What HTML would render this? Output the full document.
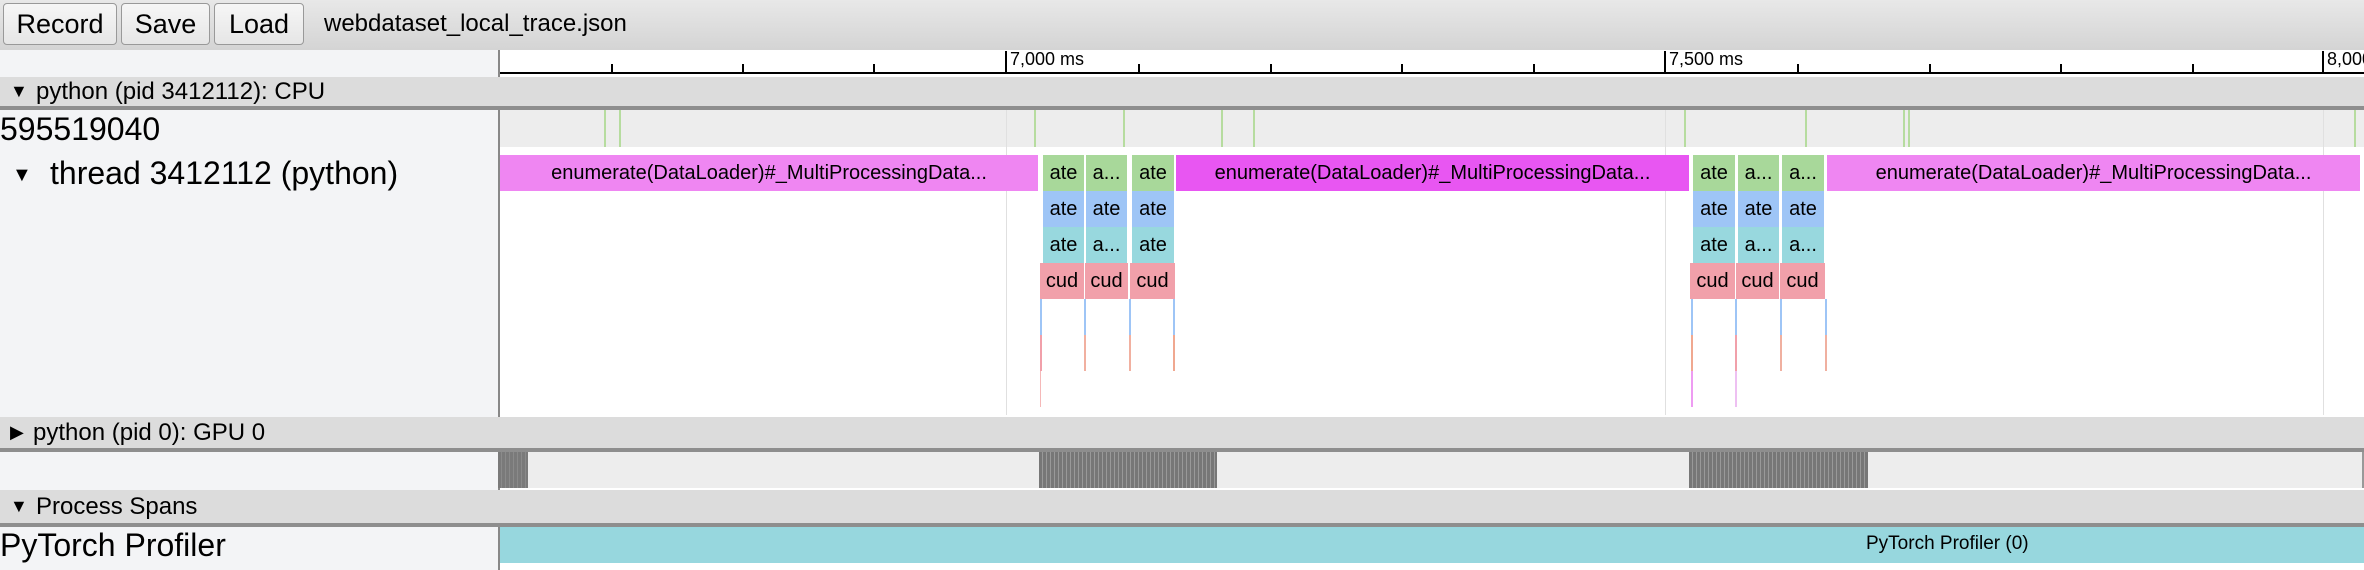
<!DOCTYPE html>
<html><head><meta charset="utf-8"><style>
*{margin:0;padding:0;box-sizing:border-box}
body{width:2364px;height:570px;overflow:hidden;background:#fff;font-family:"Liberation Sans",Arial,sans-serif;position:relative}
div{position:absolute}
.btn{top:3px;height:42px;border:1px solid #999;border-radius:4px;background:linear-gradient(#f6f6f6,#e6e6e6);font-size:27px;line-height:40px;text-align:center;color:#000}
.hdr{left:0;width:2364px;background:#dcdcdc;border-bottom:4px solid #8e8e8e;font-size:24px;color:#000}
.hdr span{position:absolute;left:36px}
.hdr i{position:absolute;left:10px;font-style:normal;font-size:18px}
.tick{width:2px;height:9px;background:#000;top:64px}
.b{height:36px;font-size:20px;line-height:36px;text-align:center;color:#000;overflow:hidden;white-space:nowrap}
.g{background:#a8d89a}.bl{background:#9ec5f6}.t{background:#98d8de}.r{background:#f1a0aa}
.vl{width:2px}
.cl{top:110px;height:37px;width:2px;background:#b6dc9f}
</style></head><body>
<!-- toolbar -->
<div style="left:0;top:0;width:2364px;height:50px;background:linear-gradient(#e8e8e8,#d4d4d4)"></div>
<div class="btn" style="left:3px;width:114px">Record</div>
<div class="btn" style="left:121px;width:89px">Save</div>
<div class="btn" style="left:214px;width:90px">Load</div>
<div style="left:324px;top:10px;font-size:24px;color:#000">webdataset_local_trace.json</div>
<!-- left panel -->
<div style="left:0;top:50px;width:499px;height:520px;background:#f3f4f6"></div>
<div style="left:498px;top:50px;width:2px;height:520px;background:#888"></div>
<!-- ruler -->
<div style="left:500px;top:50px;width:1864px;height:25px;background:#fff"></div>
<div style="left:500px;top:72px;width:1864px;height:2px;background:#000"></div>
<div class="tick" style="left:611px"></div><div class="tick" style="left:742px"></div><div class="tick" style="left:873px"></div>
<div class="tick" style="left:1138px"></div><div class="tick" style="left:1270px"></div><div class="tick" style="left:1401px"></div><div class="tick" style="left:1533px"></div>
<div class="tick" style="left:1797px"></div><div class="tick" style="left:1929px"></div><div class="tick" style="left:2060px"></div><div class="tick" style="left:2192px"></div>
<div style="left:1005px;top:51px;width:2px;height:23px;background:#000"></div>
<div style="left:1664px;top:51px;width:2px;height:23px;background:#000"></div>
<div style="left:2322px;top:51px;width:2px;height:23px;background:#000"></div>
<div style="left:1010px;top:49px;font-size:18px">7,000 ms</div>
<div style="left:1669px;top:49px;font-size:18px">7,500 ms</div>
<div style="left:2327px;top:49px;font-size:18px">8,000</div>
<!-- CPU header -->
<div class="hdr" style="top:77px;height:33px;line-height:29px"><i>▼</i><span>python (pid 3412112): CPU</span></div>
<!-- counter row -->
<div style="left:500px;top:110px;width:1864px;height:37px;background:#ededed"></div>
<div style="left:0;top:111px;font-size:32px;line-height:36px">595519040</div>
<div class="cl" style="left:604px"></div><div class="cl" style="left:619px"></div>
<div class="cl" style="left:1034px"></div><div class="cl" style="left:1123px"></div>
<div class="cl" style="left:1221px"></div><div class="cl" style="left:1253px"></div>
<div class="cl" style="left:1684px"></div><div class="cl" style="left:1805px"></div>
<div class="cl" style="left:1903px"></div><div class="cl" style="left:1908px"></div><div class="cl" style="left:2354px"></div>
<!-- grid lines -->
<div style="left:1006px;top:110px;width:1px;height:305px;background:#e0e0e0"></div>
<div style="left:1665px;top:110px;width:1px;height:305px;background:#e0e0e0"></div>
<div style="left:2323px;top:110px;width:1px;height:305px;background:#e0e0e0"></div>
<!-- thread -->
<div style="left:12px;top:157px;font-size:20px;line-height:36px">▼</div>
<div style="left:50px;top:155px;font-size:32px;line-height:36px">thread 3412112 (python)</div>
<div class="b" style="left:500px;top:155px;width:538px;background:#ef86f2">enumerate(DataLoader)#_MultiProcessingData...</div>
<div class="b" style="left:1176px;top:155px;width:513px;background:#e856f2">enumerate(DataLoader)#_MultiProcessingData...</div>
<div class="b" style="left:1827px;top:155px;width:533px;background:#ef86f2">enumerate(DataLoader)#_MultiProcessingData...</div>
<!-- block group 1 -->
<div class="b g" style="left:1043px;top:155px;width:41px">ate</div>
<div class="b g" style="left:1086px;top:155px;width:41px">a...</div>
<div class="b g" style="left:1132px;top:155px;width:42px">ate</div>
<div class="b bl" style="left:1043px;top:191px;width:41px">ate</div>
<div class="b bl" style="left:1086px;top:191px;width:41px">ate</div>
<div class="b bl" style="left:1132px;top:191px;width:42px">ate</div>
<div class="b t" style="left:1043px;top:227px;width:41px">ate</div>
<div class="b t" style="left:1086px;top:227px;width:41px">a...</div>
<div class="b t" style="left:1132px;top:227px;width:42px">ate</div>
<div class="b r" style="left:1040px;top:263px;width:44px">cud</div>
<div class="b r" style="left:1085px;top:263px;width:43px">cud</div>
<div class="b r" style="left:1130px;top:263px;width:45px">cud</div>
<!-- block group 2 -->
<div class="b g" style="left:1693px;top:155px;width:42px">ate</div>
<div class="b g" style="left:1738px;top:155px;width:41px">a...</div>
<div class="b g" style="left:1782px;top:155px;width:42px">a...</div>
<div class="b bl" style="left:1693px;top:191px;width:42px">ate</div>
<div class="b bl" style="left:1738px;top:191px;width:41px">ate</div>
<div class="b bl" style="left:1782px;top:191px;width:42px">ate</div>
<div class="b t" style="left:1693px;top:227px;width:42px">ate</div>
<div class="b t" style="left:1738px;top:227px;width:41px">a...</div>
<div class="b t" style="left:1782px;top:227px;width:42px">a...</div>
<div class="b r" style="left:1690px;top:263px;width:45px">cud</div>
<div class="b r" style="left:1736px;top:263px;width:43px">cud</div>
<div class="b r" style="left:1780px;top:263px;width:45px">cud</div>
<!-- thin lines -->
<div class="vl" style="left:1040px;top:299px;height:36px;background:#9ec5f6"></div>
<div class="vl" style="left:1084px;top:299px;height:36px;background:#9ec5f6"></div>
<div class="vl" style="left:1129px;top:299px;height:36px;background:#9ec5f6"></div>
<div class="vl" style="left:1173px;top:299px;height:36px;background:#9ec5f6"></div>
<div class="vl" style="left:1040px;top:335px;height:36px;background:#f1a0aa"></div>
<div class="vl" style="left:1084px;top:335px;height:36px;background:#f1b0a0"></div>
<div class="vl" style="left:1129px;top:335px;height:36px;background:#f1b0a0"></div>
<div class="vl" style="left:1173px;top:335px;height:36px;background:#f0a890"></div>
<div class="vl" style="left:1040px;top:371px;height:36px;background:#f5b8b8;width:1px"></div>
<div class="vl" style="left:1691px;top:299px;height:36px;background:#9ec5f6"></div>
<div class="vl" style="left:1735px;top:299px;height:36px;background:#9ec5f6"></div>
<div class="vl" style="left:1780px;top:299px;height:36px;background:#9ec5f6"></div>
<div class="vl" style="left:1825px;top:299px;height:36px;background:#9ec5f6"></div>
<div class="vl" style="left:1691px;top:335px;height:36px;background:#f0a890"></div>
<div class="vl" style="left:1735px;top:335px;height:36px;background:#f1a0aa"></div>
<div class="vl" style="left:1780px;top:335px;height:36px;background:#f0b0a0"></div>
<div class="vl" style="left:1825px;top:335px;height:36px;background:#f0b0a0"></div>
<div class="vl" style="left:1691px;top:371px;height:36px;background:#ee9cf2"></div>
<div class="vl" style="left:1735px;top:371px;height:36px;background:#eec0f2"></div>
<!-- GPU header -->
<div class="hdr" style="top:417px;height:35px;line-height:31px"><i>▶</i><span style="left:33px">python (pid 0): GPU 0</span></div>
<div style="left:500px;top:452px;width:1864px;height:36px;background:#ededed"></div>
<div style="left:2362px;top:452px;width:2px;height:36px;background:#999"></div>
<div style="left:498px;top:452px;width:30px;height:36px;background:repeating-linear-gradient(90deg,#7a7a7a 0 3px,#8a8a8a 3px 4px)"></div>
<div style="left:1039px;top:452px;width:178px;height:36px;background:repeating-linear-gradient(90deg,#777 0 3px,#999 3px 4px)"></div>
<div style="left:1689px;top:452px;width:179px;height:36px;background:repeating-linear-gradient(90deg,#777 0 3px,#999 3px 4px)"></div>
<!-- Process spans -->
<div class="hdr" style="top:490px;height:37px;line-height:33px"><i>▼</i><span>Process Spans</span></div>
<div style="left:500px;top:527px;width:1864px;height:36px;background:#97d7de"></div>
<div style="left:0;top:527px;font-size:32px;line-height:36px">PyTorch Profiler</div>
<div style="left:1866px;top:527px;font-size:19px;line-height:34px">PyTorch Profiler (0)</div>
</body></html>
